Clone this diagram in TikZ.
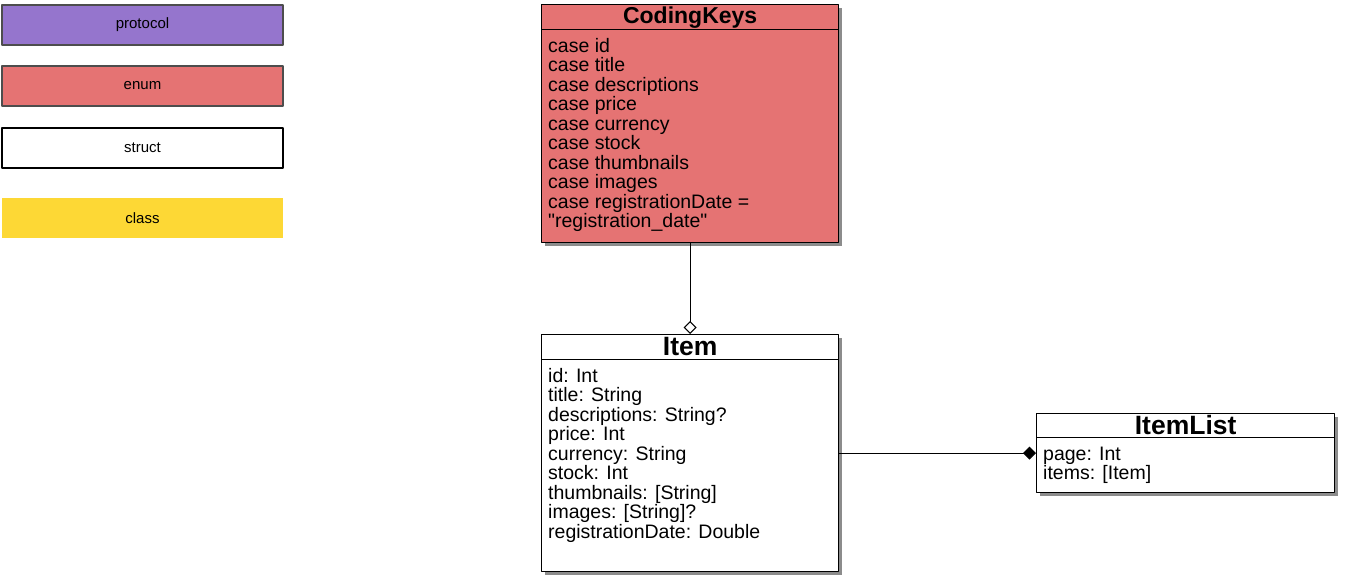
\documentclass[tikz,border=0pt]{standalone}
\usepackage{fontspec}
\setmainfont{Liberation Sans}[Ligatures=TeXOff]
\usetikzlibrary{arrows.meta,shadows,calc}

\definecolor{protocolcol}{HTML}{9575CD}
\definecolor{enumcol}{HTML}{E57373}
\definecolor{classcol}{HTML}{FDD835}
\definecolor{legendgray}{HTML}{4D4D4D}

\begin{document}
\begin{tikzpicture}[x=1pt, y=-1pt, line join=round,
	legendbox/.style={draw=legendgray, line width=2pt, minimum width=281pt, minimum height=40pt,
		inner sep=0pt, anchor=north west, font=\fontsize{15}{17}\selectfont},
	umlbox/.style={draw=black, line width=1.3pt, fill=white, anchor=north west, inner sep=0pt,
		drop shadow={shadow xshift=3pt, shadow yshift=-3pt, opacity=0.45, fill=black}},
	umltitle/.style={anchor=center, inner sep=0pt, font=\bfseries\fontsize{26.5}{28}\selectfont},
	umlline/.style={anchor=base west, inner sep=0pt, font=\fontsize{19.5}{19.5}\selectfont},
	umllink/.style={line width=1pt}]
	\useasboundingbox (0,0) rectangle (1345,582);

	% Legende
	\node[legendbox, fill=protocolcol] (protocol) at (1,4) {protocol};
	\node[legendbox, fill=enumcol] (enum) at (1,65) {enum};
	\node[legendbox, draw=black, fill=white] (struct) at (1,127) {struct};
	\node[legendbox, draw=none, fill=classcol] (class) at (1,197) {class};

	% CodingKeys (enum)
	\node[umlbox, fill=enumcol, minimum width=297pt, minimum height=238pt] (codingkeys) at (541,4) {};
	\draw[line width=1pt] ($(codingkeys.north west)+(0,25)$) -- ($(codingkeys.north east)+(0,25)$);
	\node[umltitle, font=\bfseries\fontsize{23}{25}\selectfont] (codingkeystitle) at ($(codingkeys.north)+(0,14)$) {CodingKeys};
	\foreach \t [count=\i] in {case id, case title, case descriptions, case price, case currency,
		case stock, case thumbnails, case images, case registrationDate =, "registration\_date"} {
		\node[umlline] (ck\i) at (548, 52+19.5*\i-19.5) {\t};
	}

	% Item (struct)
	\node[umlbox, minimum width=297pt, minimum height=237pt] (item) at (541,334) {};
	\draw[line width=1pt] ($(item.north west)+(0,25)$) -- ($(item.north east)+(0,25)$);
	\node[umltitle] (itemtitle) at ($(item.north)+(0,13)$) {Item};
	\foreach \t [count=\i] in {id: Int, title: String, descriptions: String?, price: Int,
		currency: String, stock: Int, thumbnails: [String], images: [String]?, registrationDate: Double} {
		\node[umlline] (it\i) at (548, 382+19.5*\i-19.5) {\t};
	}

	% ItemList (struct)
	\node[umlbox, minimum width=298pt, minimum height=79pt] (itemlist) at (1036,413) {};
	\draw[line width=1pt] ($(itemlist.north west)+(0,24)$) -- ($(itemlist.north east)+(0,24)$);
	\node[umltitle] (itemlisttitle) at ($(itemlist.north)+(0,12)$) {ItemList};
	\foreach \t [count=\i] in {page: Int, items: [Item]} {
		\node[umlline] (il\i) at (1043, 460+19.5*\i-19.5) {\t};
	}

	% Beziehungen
	\draw[umllink, -{Diamond[open, length=13pt, width=13pt]}] (codingkeys.south) -- (item.north);
	\draw[umllink, -{Diamond[length=13pt, width=13pt]}] (item.east) -- (itemlist.west);
\end{tikzpicture}
\end{document}
